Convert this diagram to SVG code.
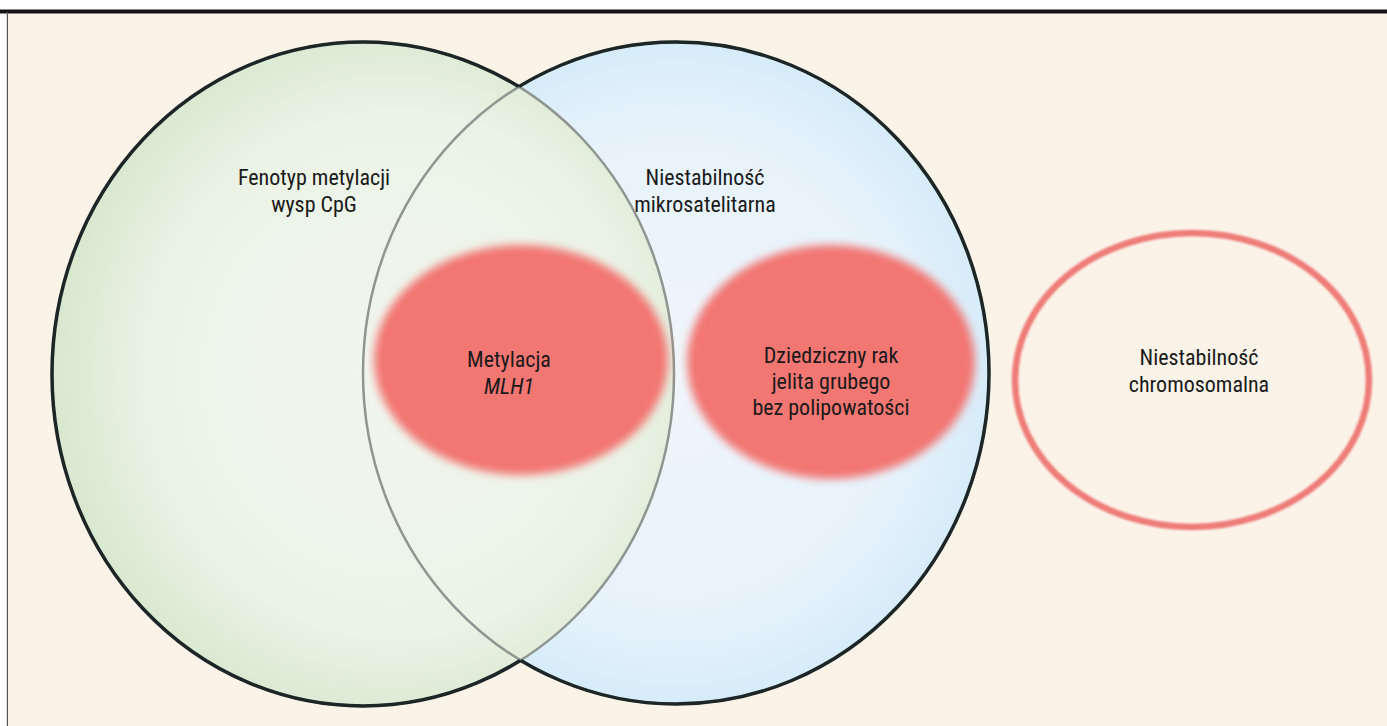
<svg xmlns="http://www.w3.org/2000/svg" width="1387" height="726" viewBox="0 0 1387 726">
  <style>
    .lbl { font-family: "Liberation Sans Narrow", "Roboto Condensed", "Liberation Sans", sans-serif; font-size: 22px; fill: #1a1a1a; text-anchor: middle; }
    .it { font-style: italic; }
    .outer { fill: none; stroke: #1c2626; stroke-width: 3.5; }
    .inner { fill: none; stroke: #8f9590; stroke-width: 2.5; }
  </style>
  <defs>
    <radialGradient id="gGreen" cx="0.55" cy="0.5" r="0.55">
      <stop offset="0" stop-color="#f1f6ee"/>
      <stop offset="0.7" stop-color="#ebf3e6"/>
      <stop offset="1" stop-color="#d7e8cf"/>
    </radialGradient>
    <radialGradient id="gBlue" cx="0.5" cy="0.5" r="0.55">
      <stop offset="0" stop-color="#f0f6fb"/>
      <stop offset="0.7" stop-color="#e6f2fb"/>
      <stop offset="1" stop-color="#cfe9f8"/>
    </radialGradient>
    <filter id="blur" x="-20%" y="-20%" width="140%" height="140%">
      <feGaussianBlur stdDeviation="4.5"/>
    </filter>
    <filter id="soft" x="-5%" y="-5%" width="110%" height="110%">
      <feGaussianBlur stdDeviation="1"/>
    </filter>
    <mask id="outsideBlue" maskUnits="userSpaceOnUse" x="0" y="0" width="1387" height="726">
      <rect x="0" y="0" width="1387" height="726" fill="#fff"/>
      <ellipse cx="676" cy="373" rx="313" ry="331" fill="#000"/>
    </mask>
    <mask id="outsideGreen" maskUnits="userSpaceOnUse" x="0" y="0" width="1387" height="726">
      <rect x="0" y="0" width="1387" height="726" fill="#fff"/>
      <ellipse cx="363" cy="374" rx="311" ry="332" fill="#000"/>
    </mask>
  </defs>

  <!-- frame -->
  <rect x="0" y="0" width="1387" height="726" fill="#ffffff"/>
  <rect x="8" y="13" width="1379" height="713" fill="#fbf3e8"/>
  <rect x="0" y="9.5" width="1387" height="4" fill="#141414"/>
  <rect x="6.8" y="12" width="1.2" height="714" fill="#555555"/>

  <g id="msi-circle">
    <ellipse cx="676" cy="373" rx="313" ry="331" fill="url(#gBlue)"/>
  </g>
  <g id="cimp-circle">
    <ellipse cx="363" cy="374" rx="311" ry="332" fill="url(#gGreen)"/>
  </g>
  <g id="circle-outlines">
    <ellipse class="inner" cx="363" cy="374" rx="311" ry="332"/>
    <ellipse class="inner" cx="676" cy="373" rx="313" ry="331"/>
    <ellipse class="outer" cx="363" cy="374" rx="311" ry="332" mask="url(#outsideBlue)"/>
    <ellipse class="outer" cx="676" cy="373" rx="313" ry="331" mask="url(#outsideGreen)"/>
  </g>

  <g id="mlh1-methylation">
    <ellipse cx="521" cy="360" rx="147" ry="115" fill="#f27672" filter="url(#blur)"/>
    <text class="lbl" x="509" y="367">Metylacja</text>
    <text class="lbl it" x="509" y="394">MLH1</text>
  </g>

  <g id="hnpcc">
    <ellipse cx="831" cy="362" rx="144" ry="117" fill="#f27672" filter="url(#blur)"/>
    <text class="lbl" x="831" y="363">Dziedziczny rak</text>
    <text class="lbl" x="831" y="389">jelita grubego</text>
    <text class="lbl" x="831" y="415">bez polipowatości</text>
  </g>

  <g id="cimp-label">
    <text class="lbl" x="314" y="185">Fenotyp metylacji</text>
    <text class="lbl" x="314" y="212">wysp CpG</text>
  </g>

  <g id="msi-label">
    <text class="lbl" x="705" y="185">Niestabilność</text>
    <text class="lbl" x="705" y="212">mikrosatelitarna</text>
  </g>

  <g id="cin">
    <ellipse cx="1192" cy="380" rx="177" ry="147" fill="none" stroke="#ee7b78" stroke-width="6.5" filter="url(#soft)"/>
    <text class="lbl" x="1199" y="365">Niestabilność</text>
    <text class="lbl" x="1199" y="392">chromosomalna</text>
  </g>

  <g id="connectors"/>
</svg>
